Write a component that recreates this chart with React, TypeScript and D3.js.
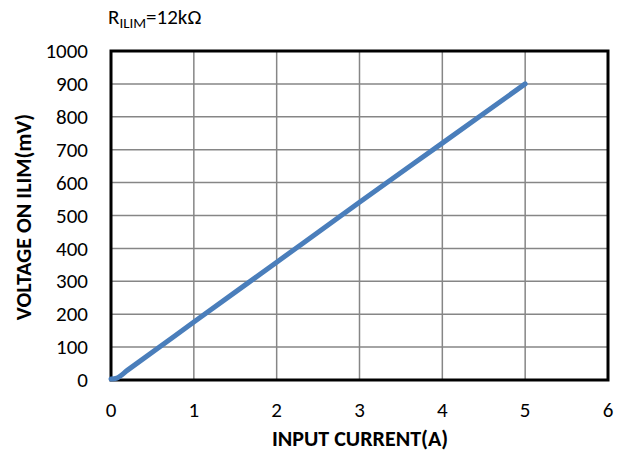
import React from "react";
import * as d3 from "d3";

const currentA = [0, 0.07, 0.2, 1, 2, 3, 4, 5];
const voltageMv = [3, 6, 30, 176, 358, 540, 720, 900];
const xTicks = [0, 1, 2, 3, 4, 5, 6];
const yTicks = [0, 100, 200, 300, 400, 500, 600, 700, 800, 900, 1000];

const W = 624;
const H = 454;
const M = { left: 111, right: 608, top: 51, bottom: 380 };
const FONT = "Carlito, Lato, 'Liberation Sans', sans-serif";

export default function App() {
  const x = d3.scaleLinear().domain([0, 6]).range([M.left, M.right]);
  const y = d3.scaleLinear().domain([0, 1000]).range([M.bottom, M.top]);
  const pts: [number, number][] = currentA.map((c, i) => [c, voltageMv[i]]);
  const line = d3
    .line<[number, number]>()
    .x((d) => x(d[0]))
    .y((d) => y(d[1]))
    .curve(d3.curveMonotoneX);

  return (
    <svg
      width={W}
      height={H}
      style={{ position: "absolute", left: 0, top: 0, background: "#fff" }}
      fontFamily={FONT}
    >
      <rect x={0} y={0} width={W} height={H} fill="#fff" />
      {xTicks.map((t) => (
        <line key={"gx" + t} x1={x(t)} x2={x(t)} y1={M.top} y2={M.bottom} stroke="#868686" strokeWidth={1.5} />
      ))}
      {yTicks.map((t) => (
        <line key={"gy" + t} x1={M.left} x2={M.right} y1={y(t)} y2={y(t)} stroke="#868686" strokeWidth={1.5} />
      ))}
      <rect
        x={M.left}
        y={M.top}
        width={M.right - M.left}
        height={M.bottom - M.top}
        fill="none"
        stroke="#000"
        strokeWidth={3}
      />
      <path d={line(pts) || ""} fill="none" stroke="#4a7ebb" strokeWidth={5} strokeLinecap="round" />
      {yTicks.map((t) => (
        <text key={"ty" + t} x={88} y={y(t)} dy="0.34em" textAnchor="end" fontSize={21} fill="#000">
          {t}
        </text>
      ))}
      {xTicks.map((t) => (
        <text key={"tx" + t} x={x(t)} y={410} dy="0.34em" textAnchor="middle" fontSize={21} fill="#000">
          {t}
        </text>
      ))}
      <text x={360} y={430} dy="0.72em" textAnchor="middle" fontSize={22} fontWeight="bold" fill="#000">
        INPUT CURRENT(A)
      </text>
      <text
        x={0}
        y={0}
        transform={`translate(24,217) rotate(-90)`}
        textAnchor="middle"
        dy="0.34em"
        fontSize={22}
        fontWeight="bold"
        fill="#000"
      >
        VOLTAGE ON ILIM(mV)
      </text>
      <text x={108} y={24} fontSize={21} fill="#000">
        R
        <tspan fontSize={15} dy={4}>ILIM</tspan>
        <tspan dy={-4}>=12kΩ</tspan>
      </text>
    </svg>
  );
}
